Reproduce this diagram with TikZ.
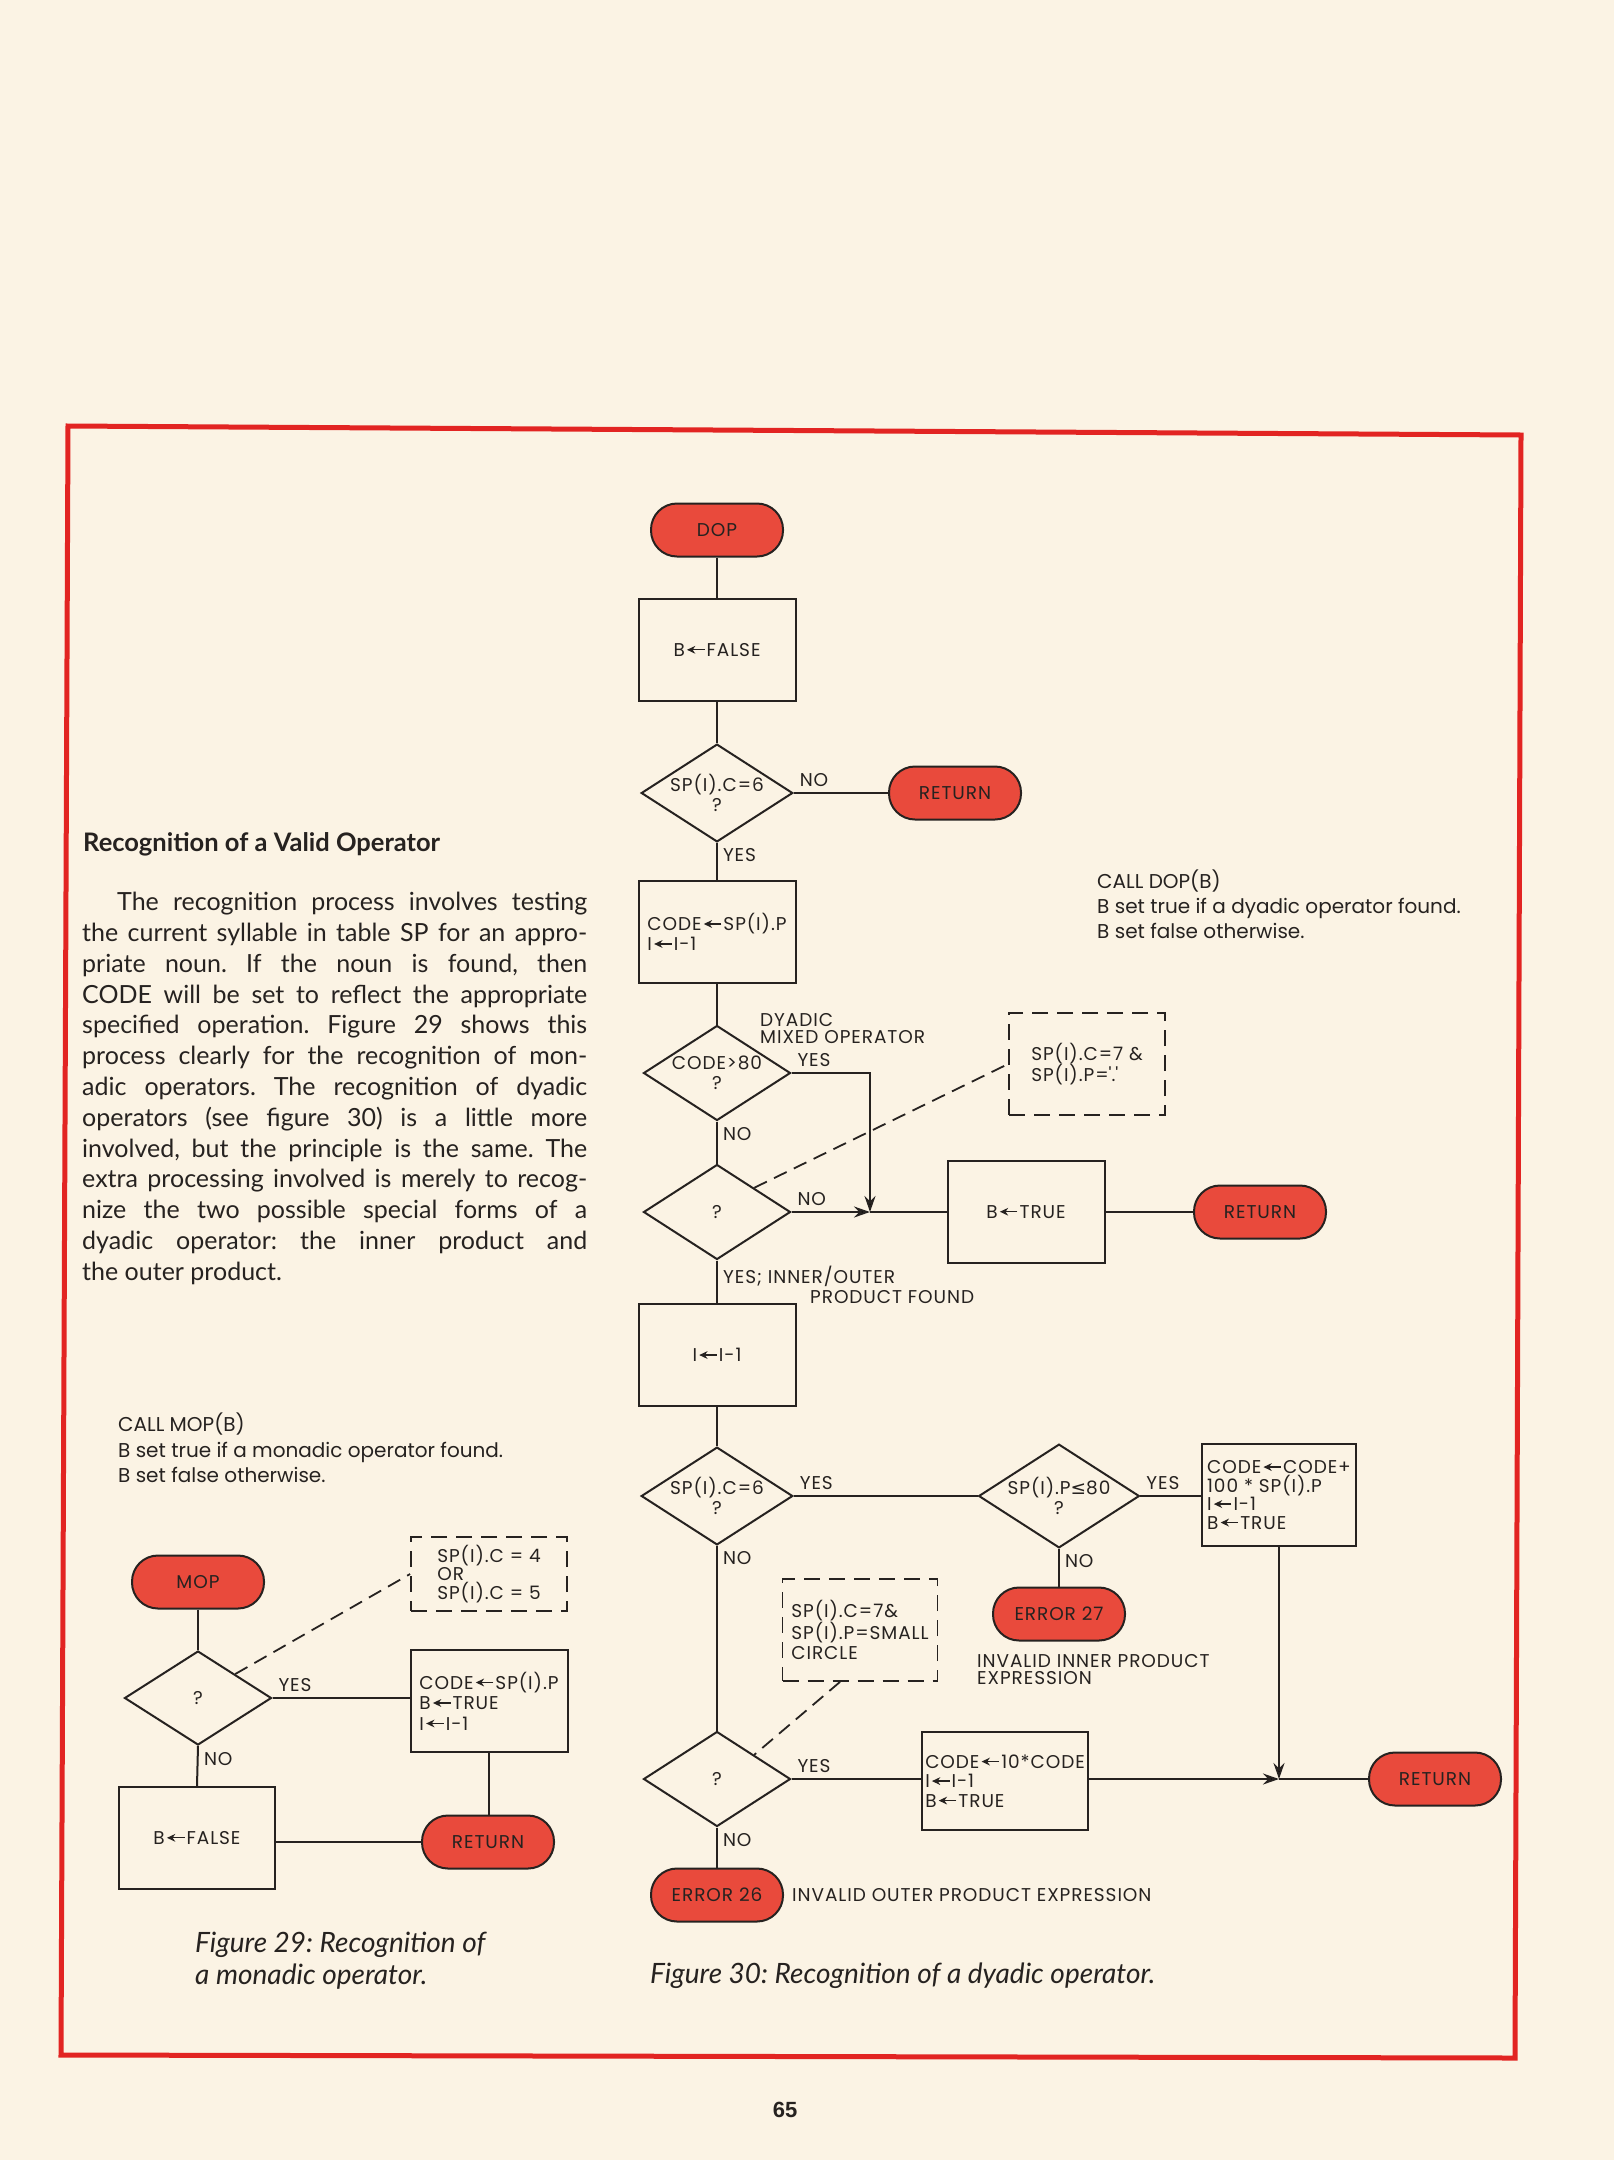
\documentclass[tikz,border=0pt]{standalone}
\usepackage{fontspec}
\setmainfont{Lato}
\newfontfamily\chartfont{Poppins}[LetterSpace=5]
\newfontfamily\callfont{Poppins}
\newfontfamily\symfont{DejaVu Sans}
\newfontfamily\folio{Liberation Sans}
\usetikzlibrary{shapes.geometric,arrows.meta}

\definecolor{paper}{RGB}{251,243,228}
\definecolor{ink}{RGB}{38,34,32}
\definecolor{termred}{RGB}{233,74,60}
\definecolor{framered}{RGB}{226,36,34}

% small assignment arrow used inside the boxes
\newcommand{\getsto}{\kern0.08em\tikz[baseline=0pt,x=1em,y=1em]\draw[solid,ink,line width=0.07em,-{Stealth[length=0.45em,width=0.42em]}] (0.95,0.36) -- (0,0.36);\kern0.08em}

\tikzset{
  chart/.style={font=\chartfont\fontsize{18.5}{20}\selectfont, text=ink},
  proc/.style={chart, draw=ink, line width=2pt, rectangle, minimum width=157pt, minimum height=102pt, align=left, inner sep=3pt},
  term/.style={chart, draw=ink, fill=termred, line width=2pt, rectangle, rounded corners=26pt, minimum width=132pt, minimum height=53pt, inner sep=2pt},
  decision/.style={chart, draw=ink, line width=2pt, diamond, aspect=1.55, minimum width=147pt, minimum height=95pt, inner sep=0pt, align=center},
  memo/.style={chart, draw=ink, line width=1.8pt, dash pattern=on 16pt off 9pt, rectangle, minimum width=156pt, align=left, inner sep=3pt},
  lbl/.style={chart, inner sep=5pt},
  link/.style={draw=ink, line width=2pt},
  hint/.style={draw=ink, line width=1.8pt, dash pattern=on 14pt off 8pt},
  prose/.style={text=ink, inner sep=0pt},
}

\begin{document}
\frenchspacing
\begin{tikzpicture}[x=1pt,y=-1pt,>={Stealth[length=16pt,width=11pt]}]
  \useasboundingbox (0,0) rectangle (1614,2160);
  \fill[paper] (0,0) rectangle (1614,2160);
  \draw[framered,line width=5pt] (68,426) -- (1521,435) -- (1515,2058) -- (61,2055) -- cycle;

  % Text column.
  \node[prose,anchor=base west,font=\bfseries\fontsize{25.5}{30}\selectfont] (head) at (83,851) {Recognition of a Valid Operator};
  \node[prose,anchor=north west,text width=505pt,align=justify,font=\fontsize{25}{30.8}\selectfont] (body) at (82,892)
    {\hspace*{35pt}The recognition process involves testing\linebreak
     the current syllable in table SP for an appro-\linebreak
     priate noun. If the noun is found, then\linebreak
     CODE will be set to reflect the appropriate\linebreak
     specified operation. Figure 29 shows this\linebreak
     process clearly for the recognition of mon-\linebreak
     adic operators. The recognition of dyadic\linebreak
     operators (see figure 30) is a little more\linebreak
     involved, but the principle is the same. The\linebreak
     extra processing involved is merely to recog-\linebreak
     nize the two possible special forms of a\linebreak
     dyadic operator: the inner product and\linebreak
     the outer product.};

  \node[prose,anchor=north west,align=left,font=\callfont\fontsize{20}{25}\selectfont] (dcall) at (1097,870)
    {{\fontsize{20}{25}\selectfont CALL DOP(B)}\\B set true if a dyadic operator found.\\B set false otherwise.};
  \node[prose,anchor=north west,align=left,font=\callfont\fontsize{20}{25.5}\selectfont] (mcall) at (118,1413)
    {{\fontsize{20}{25}\selectfont CALL MOP(B)}\\B set true if a monadic operator found.\\B set false otherwise.};

  % Figure 30: dyadic operator.
  \node[term] (dop) at (717,530) {DOP};
  \node[proc] (dfalse) at (717,650) {B\getsto FALSE};
  \node[decision] (dq1) at (717,793) {SP(I).C=6\\?};
  \node[term] (dret1) at (955,793) {RETURN};
  \node[proc] (dcode) at (717,932) {CODE\getsto SP(I).P\\I\getsto I-1};
  \node[decision] (dq2) at (717,1073) {CODE>80\\?};
  \node[decision] (dq3) at (717,1212) {?};
  \node[proc] (dtrue) at (1026,1212) {B\getsto TRUE};
  \node[term] (dret2) at (1260,1212) {RETURN};
  \node[memo,minimum height=102pt] (dnote1) at (1087,1064) {SP(I).C=7 \&\\SP(I).P=\textquotesingle.\textquotesingle};
  \node[proc] (ddec) at (717,1355) {I\getsto I-1};
  \node[decision] (dq4) at (717,1496) {SP(I).C=6\\?};
  \node[decision] (dq5) at (1059,1496) {SP(I).P{\symfont ≤}80\\?};
  \node[proc,minimum width=154pt,font=\chartfont\fontsize{18.5}{18.5}\selectfont] (dcode2) at (1279,1495)
    {CODE\getsto CODE+\\100 * SP(I).P\\I\getsto I-1\\B\getsto TRUE};
  \node[term] (derr27) at (1059,1614) {ERROR 27};
  \node[memo,minimum width=155pt,minimum height=102pt] (dnote2) at (860,1630) {SP(I).C=7\&\\SP(I).P=SMALL\\CIRCLE};
  \node[decision] (dq6) at (717,1779) {?};
  \node[proc,minimum height=98pt,font=\chartfont\fontsize{18.5}{19.5}\selectfont] (dcode3) at (1005,1781)
    {CODE\getsto 10*CODE\\I\getsto I-1\\B\getsto TRUE};
  \node[term] (dret3) at (1435,1779) {RETURN};
  \node[term] (derr26) at (717,1895) {ERROR 26};
  \coordinate (jn1) at (870,1212);
  \coordinate (jn2) at (dcode2.south |- dret3.west);

  \node[chart,anchor=north west,align=left,inner sep=0pt,font=\chartfont\fontsize{18.5}{17.5}\selectfont] (dmix) at (760,1013) {DYADIC\\MIXED OPERATOR};
  \node[chart,anchor=north west,align=left,inner sep=0pt,font=\chartfont\fontsize{18.5}{20}\selectfont] (dprod) at (723,1266) {YES; INNER/OUTER\\\hspace*{87pt}PRODUCT FOUND};
  \node[chart,anchor=north west,align=left,inner sep=0pt,font=\chartfont\fontsize{18.5}{17.5}\selectfont] (dinner) at (977,1654) {INVALID INNER PRODUCT\\EXPRESSION};
  \node[chart,anchor=west,inner sep=0pt] (douter) at ([xshift=8pt]derr26.east) {INVALID OUTER PRODUCT EXPRESSION};

  \draw[link] (dop) -- (dfalse);
  \draw[link] (dfalse) -- (dq1);
  \draw[link] (dq1.east) node[lbl,above right] {NO} -- (dret1.west);
  \draw[link] (dq1.south) node[lbl,below right] {YES} -- (dcode.north);
  \draw[link] (dcode) -- (dq2);
  \draw[link] (dq2.south) node[lbl,below right] {NO} -- (dq3.north);
  \draw[link,->] (dq2.east) node[lbl,above right] {YES} -| (jn1);
  \draw[link,->] (dq3.east) node[lbl,above right] {NO} -- (jn1);
  \draw[link] (jn1) -- (dtrue.west);
  \draw[link] (dtrue) -- (dret2);
  \draw[hint] (dq3.north east) -- (dnote1.west);
  \draw[link] (dq3.south) -- (ddec.north);
  \draw[link] (ddec) -- (dq4);
  \draw[link] (dq4.east) node[lbl,above right] {YES} -- (dq5.west);
  \draw[link] (dq5.east) node[lbl,above right] {YES} -- (dq5.east -| dcode2.west);
  \draw[link] (dq5.south) node[lbl,below right] {NO} -- (derr27.north);
  \draw[link] (dq4.south) node[lbl,below right] {NO} -- (dq6.north);
  \draw[hint] ([xshift=-20pt]dnote2.south) -- (dq6.north east);
  \draw[link] (dq6.east) node[lbl,above right] {YES} -- (dq6.east -| dcode3.west);
  \draw[link,->] (dcode3.east |- jn2) -- (jn2);
  \draw[link,->] (dcode2.south) -- (jn2);
  \draw[link] (jn2) -- (dret3.west);
  \draw[link] (dq6.south) node[lbl,below right] {NO} -- (derr26.north);

  % Figure 29: monadic operator.
  \node[term] (mop) at (198,1582) {MOP};
  \node[decision,minimum height=94pt] (mq) at (198,1698) {?};
  \node[proc,font=\chartfont\fontsize{18.5}{20.5}\selectfont] (mcode) at (489,1701) {CODE\getsto SP(I).P\\B\getsto TRUE\\I\getsto I-1};
  \node[memo,minimum height=74pt,font=\chartfont\fontsize{18.5}{18.5}\selectfont] (mnote) at (489,1574) {SP(I).C = 4\\OR\\SP(I).C = 5};
  \node[proc,minimum width=156pt] (mfalse) at (197,1838) {B\getsto FALSE};
  \node[term] (mret) at (488,1842) {RETURN};

  \draw[link] (mop) -- (mq);
  \draw[link] (mq.east) node[lbl,above right] {YES} -- (mq.east -| mcode.west);
  \draw[hint] (mq.north east) -- (mnote.west);
  \draw[link] (mq.south) node[lbl,below right] {NO} -- (mfalse.north);
  \draw[link] (mret.west) -- (mret.west -| mfalse.east);
  \draw[link] (mcode.south) -- (mcode.south |- mret.north);

  % Captions and folio.
  \node[prose,anchor=north west,align=left,font=\itshape\fontsize{28}{32}\selectfont] (cap29) at (195,1932) {Figure 29: Recognition of\\a monadic operator.};
  \node[prose,anchor=base west,font=\itshape\fontsize{28}{32}\selectfont] (cap30) at (650,1983) {Figure 30: Recognition of a dyadic operator.};
  \node[prose,font=\folio\bfseries\fontsize{22}{22}\selectfont] (page) at (785,2110) {65};
\end{tikzpicture}
\end{document}
